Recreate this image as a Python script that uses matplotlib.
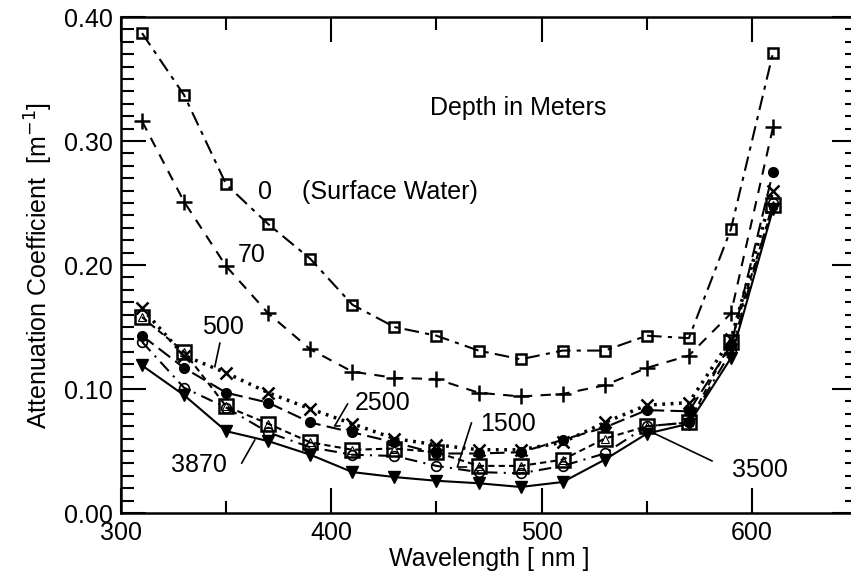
import numpy as np
import matplotlib
matplotlib.use("Agg")
import matplotlib.pyplot as plt

plt.rcParams['font.family'] = ['Liberation Sans', 'DejaVu Sans']

# wavelengths in nm
wavelength = [310, 330, 350, 370, 390, 410, 430, 450, 470, 490, 510, 530, 550, 570, 590, 610]

# attenuation coefficient [1/m] for each depth
depth_0 = [0.387, 0.337, 0.265, 0.233, 0.205, 0.168, 0.150, 0.143, 0.131, 0.124, 0.131, 0.131, 0.143, 0.141, 0.229, 0.371]
depth_70 = [0.316, 0.251, 0.199, 0.161, 0.132, 0.114, 0.109, 0.108, 0.097, 0.094, 0.096, 0.103, 0.117, 0.127, 0.161, 0.311]
depth_500 = [0.165, 0.127, 0.113, 0.097, 0.084, 0.072, 0.060, 0.055, 0.051, 0.051, 0.057, 0.073, 0.087, 0.089, 0.140, 0.260]
depth_1500 = [0.138, 0.101, 0.085, 0.065, 0.053, 0.047, 0.046, 0.038, 0.033, 0.032, 0.038, 0.048, 0.070, 0.073, 0.130, 0.250]
depth_2500 = [0.143, 0.117, 0.097, 0.089, 0.073, 0.065, 0.057, 0.048, 0.048, 0.049, 0.059, 0.069, 0.083, 0.082, 0.135, 0.275]
depth_3500 = [0.158, 0.130, 0.086, 0.072, 0.057, 0.051, 0.052, 0.049, 0.038, 0.038, 0.043, 0.060, 0.070, 0.073, 0.138, 0.248]
depth_3870 = [0.119, 0.095, 0.066, 0.058, 0.047, 0.033, 0.029, 0.026, 0.024, 0.021, 0.025, 0.043, 0.064, 0.072, 0.125, 0.245]

fig = plt.figure(figsize=(8.51, 5.75), dpi=100)
ax = fig.add_axes([0.1422, 0.1078, 0.865, 0.8626])

lw = 1.5
ax.plot(wavelength, depth_0, color='k', lw=lw, linestyle=(0, (7, 3, 2, 3)),
        marker='s', ms=7, mfc='none', mew=1.8)
ax.plot(wavelength, depth_70, color='k', lw=lw, linestyle=(0, (5, 4)),
        marker='+', ms=11, mew=1.8)
ax.plot(wavelength, depth_500, color='k', lw=2.5, linestyle=(0, (0.8, 1.6)),
        marker='x', ms=9, mew=1.8)
ax.plot(wavelength, depth_1500, color='k', lw=lw, linestyle=(0, (6, 3, 1, 3)),
        marker='o', ms=7, mfc='none', mew=1.2)
ax.plot(wavelength, depth_2500, color='k', lw=lw, linestyle=(0, (7, 3)),
        marker='o', ms=7, mfc='k', mew=1)
ax.plot(wavelength, depth_3500, color='k', lw=lw, linestyle=(0, (3, 2)),
        marker='s', ms=10, mfc='none', mew=1.8)
ax.plot(wavelength, depth_3500, color='k', lw=0, marker='^', ms=6, mfc='none', mew=0.8)
ax.plot(wavelength, depth_3870, color='k', lw=lw, linestyle='-',
        marker='v', ms=8, mfc='k', mew=1)

ax.set_xlim(300, 650)
ax.set_ylim(0, 0.40)
ax.set_xticks([300, 400, 500, 600])
ax.set_xticks(np.arange(350, 650, 100), minor=True)
ax.set_yticks(np.arange(0, 0.41, 0.10))
ax.set_yticks(np.arange(0, 0.401, 0.01), minor=True)
ax.yaxis.set_major_formatter(matplotlib.ticker.FormatStrFormatter('%.2f'))

ax.tick_params(which='both', direction='in', top=True, right=True, width=1.5,
               labelsize=18, colors='k')
ax.tick_params(which='major', length=18, pad=6)
ax.tick_params(which='minor', length=9)
for s in ax.spines.values():
    s.set_linewidth(1.8)

ax.set_xlabel('Wavelength [ nm ]', fontsize=18, labelpad=1)
ax.set_ylabel('Attenuation Coefficient  [m$^{-1}$]', fontsize=18, labelpad=6)

# depth labels
fs = 18
ax.text(530.7, 0.327, 'Depth in Meters', fontsize=fs, ha='right', va='center')
ax.text(368.3, 0.259, '0', fontsize=fs, ha='center', va='center')
ax.text(385.9, 0.259, '(Surface Water)', fontsize=fs, ha='left', va='center')
ax.text(362.2, 0.208, '70', fontsize=fs, ha='center', va='center')
ax.text(348.4, 0.150, '500', fontsize=fs, ha='center', va='center')
ax.text(424.5, 0.0887, '2500', fontsize=fs, ha='center', va='center')
ax.text(484.0, 0.0718, '1500', fontsize=fs, ha='center', va='center')
ax.text(337.0, 0.0387, '3870', fontsize=fs, ha='center', va='center')
ax.text(604.0, 0.0347, '3500', fontsize=fs, ha='center', va='center')

# leader lines
leaders = [
    ([347.0, 344.6], [0.137, 0.118]),
    ([407.7, 401.6, 404.0], [0.0879, 0.0702, 0.0702]),
    ([466.6, 459.9, 464.2], [0.0726, 0.0371, 0.0371]),
    ([357.4, 363.6], [0.0403, 0.0589]),
    ([581.0, 550.1], [0.042, 0.067]),
]
for xs, ys in leaders:
    ax.plot(xs, ys, color='k', lw=1.2)

fig.savefig('out.png', dpi=100)
